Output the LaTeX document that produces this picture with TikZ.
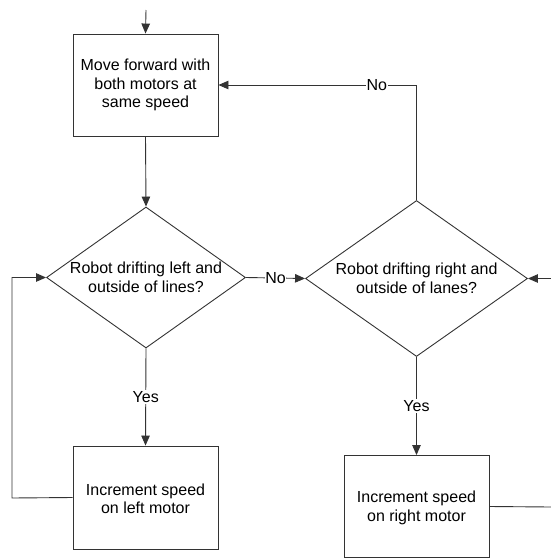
\documentclass[tikz,border=0pt]{standalone}
\usepackage{fontspec}
\setmainfont{Liberation Sans}
\usetikzlibrary{arrows.meta,shapes.geometric}
\tikzset{
  ln/.style={draw=black!80,line width=0.9pt},
  arr/.style={ln,-{Triangle[length=10pt,width=8.5pt]}},
  procbox/.style={draw=black!80,line width=0.9pt,minimum width=145pt,inner sep=0pt},
  decision/.style={diamond,draw=black!80,line width=0.9pt,inner sep=0pt},
  txt/.style={align=center,inner sep=0pt,font=\fontsize{16}{18.5}\selectfont},
  lbl/.style={fill=white,inner sep=1pt,font=\fontsize{16}{18.5}\selectfont},
}
\begin{document}
\begin{tikzpicture}[x=1pt,y=-1pt]
\useasboundingbox (0,0) rectangle (551,558);
% nodes
\node[procbox,minimum height=102pt] (b1) at (145.5,85) {};
\node[txt] (b1t) at (145.5,85) {Move forward with\\both motors at\\same speed};
\node[decision,minimum width=199pt,minimum height=141pt] (d1) at (146,277.5) {};
\node[txt] (d1t) at (146,277.5) {Robot drifting left and\\outside of lines?};
\node[procbox,minimum height=103pt] (b2) at (145.5,497.5) {};
\node[txt] (b2t) at (145.5,499) {Increment speed\\on left motor};
\node[decision,minimum width=222pt,minimum height=156pt] (d2) at (416.5,278.5) {};
\node[txt] (d2t) at (416.5,278.5) {Robot drifting right and\\outside of lanes?};
\node[procbox,minimum height=102pt] (b3) at (416.5,506.5) {};
\node[txt] (b3t) at (416.5,508) {Increment speed\\on right motor};
% free ends
\coordinate (start) at (146,10);
\coordinate (lloop) at (12,498);
\coordinate (rin) at (551,278.5);
\coordinate (rout) at (551,507);
% connectors
\draw[arr] (start) -- (b1.north);
\draw[arr] (b1.south) -- (d1.north);
\draw[arr] (d1.south) -- node[lbl] (yes1) {Yes} (b2.north);
\draw[arr] (d1.east) -- node[lbl,inner sep=0.5pt] (no1) {No} (d2.west);
\draw[arr] (b2.west) -- (lloop) |- (d1.west);
\draw[arr] (d2.north) |- node[lbl,pos=0.6,inner sep=0.5pt] (no2) {No} (b1.east);
\draw[arr] (d2.south) -- node[lbl] (yes2) {Yes} (b3.north);
\draw[arr] (rin) -- (d2.east);
\draw[ln] (b3.east) -- (rout);
\end{tikzpicture}
\end{document}
